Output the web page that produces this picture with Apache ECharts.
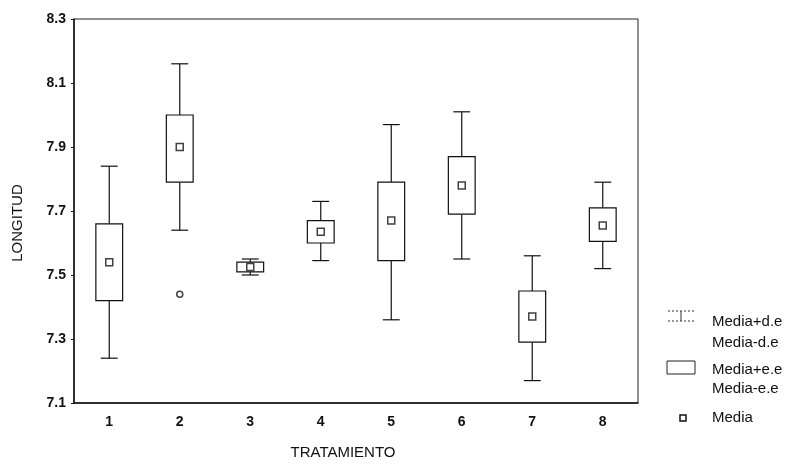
<!DOCTYPE html>
<html>
<head>
<meta charset="utf-8">
<script src="https://cdn.jsdelivr.net/npm/echarts@6/dist/echarts.min.js"></script>
<style>html,body{margin:0;padding:0;background:#fff}#c{width:799px;height:465px}</style>
</head>
<body>
<div id="c"></div>
<script>
var categories = ['1','2','3','4','5','6','7','8'];
var sdHigh  = [7.84, 8.16, 7.55, 7.73, 7.97, 8.01, 7.56, 7.79];
var seHigh  = [7.66, 8.00, 7.54, 7.67, 7.79, 7.87, 7.45, 7.71];
var means   = [7.54, 7.90, 7.525, 7.635, 7.67, 7.78, 7.37, 7.655];
var seLow   = [7.42, 7.79, 7.51, 7.60, 7.545, 7.69, 7.29, 7.605];
var sdLow   = [7.24, 7.64, 7.50, 7.545, 7.36, 7.55, 7.17, 7.52];
var outliers = [[1, 7.44]];
var yTicks = {min: 7.1, max: 8.3, step: 0.2};
var legendLabels = ['Media+d.e', 'Media-d.e', 'Media+e.e', 'Media-e.e', 'Media'];

var FONT = 'Liberation Sans, Arial, sans-serif';
var chart = echarts.init(document.getElementById('c'), null, {renderer: 'canvas'});

var boxData = categories.map(function (c, i) {
  return [i, sdLow[i], seLow[i], seHigh[i], sdHigh[i]];
});

function renderBox(params, api) {
  var i = api.value(0);
  var pLo = api.coord([i, api.value(1)]);
  var pQ1 = api.coord([i, api.value(2)]);
  var pQ3 = api.coord([i, api.value(3)]);
  var pHi = api.coord([i, api.value(4)]);
  var band = api.size([1, 0])[0];
  var bw = band * 0.38;
  var cw = band * 0.24;
  var x = pLo[0];
  var st = {stroke: '#111', lineWidth: 1.2, fill: null};
  return {
    type: 'group',
    children: [
      {type: 'line', shape: {x1: x, y1: pHi[1], x2: x, y2: pQ3[1]}, style: st},
      {type: 'line', shape: {x1: x, y1: pQ1[1], x2: x, y2: pLo[1]}, style: st},
      {type: 'line', shape: {x1: x - cw / 2, y1: pHi[1], x2: x + cw / 2, y2: pHi[1]}, style: st},
      {type: 'line', shape: {x1: x - cw / 2, y1: pLo[1], x2: x + cw / 2, y2: pLo[1]}, style: st},
      {type: 'rect', shape: {x: x - bw / 2, y: pQ3[1], width: bw, height: pQ1[1] - pQ3[1]},
        style: {stroke: '#111', lineWidth: 1.2, fill: '#fff'}}
    ]
  };
}

function legText(label, y) {
  return {type: 'text', x: 712, y: y, style: {text: label, font: '15px ' + FONT, fill: '#111', verticalAlign: 'middle', align: 'left'}};
}

chart.setOption({
  animation: false,
  backgroundColor: '#fff',
  grid: {left: 74, right: 161, top: 19, bottom: 60, show: true, borderColor: '#222', borderWidth: 1, backgroundColor: 'transparent'},
  xAxis: {
    type: 'category',
    data: categories,
    name: 'TRATAMIENTO',
    nameLocation: 'middle',
    nameGap: 42,
    nameTextStyle: {fontFamily: FONT, fontSize: 15, color: '#111', padding: [0, 26, 0, 0]},
    axisLine: {lineStyle: {color: '#111', width: 1.5}},
    axisTick: {show: false},
    axisLabel: {fontFamily: FONT, fontSize: 14, fontWeight: 'bold', color: '#111', margin: 12},
    splitLine: {show: false}
  },
  yAxis: {
    type: 'value',
    min: yTicks.min,
    max: yTicks.max,
    interval: yTicks.step,
    name: 'LONGITUD',
    nameLocation: 'middle',
    nameGap: 49,
    nameTextStyle: {fontFamily: FONT, fontSize: 15, color: '#111', padding: [0, 24, 0, 0]},
    axisLine: {show: true, lineStyle: {color: '#111', width: 1.5}},
    axisTick: {show: true, length: 3, lineStyle: {color: '#111'}},
    axisLabel: {fontFamily: FONT, fontSize: 14, fontWeight: 'bold', color: '#111', margin: 8,
      formatter: function (v) { return v.toFixed(1); }},
    splitLine: {show: false}
  },
  series: [
    {
      type: 'custom',
      renderItem: renderBox,
      data: boxData,
      encode: {x: 0, y: [1, 2, 3, 4]},
      z: 2
    },
    {
      type: 'scatter',
      data: means.map(function (m, i) { return [i, m]; }),
      symbol: 'rect',
      symbolSize: 7,
      itemStyle: {color: '#fff', borderColor: '#111', borderWidth: 1.5},
      z: 5
    },
    {
      type: 'scatter',
      data: outliers,
      symbol: 'circle',
      symbolSize: 6,
      itemStyle: {color: '#fff', borderColor: '#111', borderWidth: 1.5},
      z: 5
    }
  ],
  graphic: [
    {type: 'line', shape: {x1: 668, y1: 311, x2: 694, y2: 311}, style: {stroke: '#333', lineWidth: 1, lineDash: [2, 2]}},
    {type: 'line', shape: {x1: 681, y1: 311, x2: 681, y2: 321}, style: {stroke: '#333', lineWidth: 1}},
    {type: 'line', shape: {x1: 668, y1: 321, x2: 694, y2: 321}, style: {stroke: '#333', lineWidth: 1, lineDash: [2, 2]}},
    legText(legendLabels[0], 322),
    legText(legendLabels[1], 343),
    {type: 'rect', shape: {x: 667, y: 361, width: 28, height: 13}, style: {stroke: '#222', lineWidth: 1, fill: '#fff'}},
    legText(legendLabels[2], 370),
    legText(legendLabels[3], 389),
    {type: 'rect', shape: {x: 680, y: 415, width: 6, height: 6}, style: {stroke: '#111', lineWidth: 1.5, fill: '#fff'}},
    legText(legendLabels[4], 418)
  ]
});
</script>
</body>
</html>
